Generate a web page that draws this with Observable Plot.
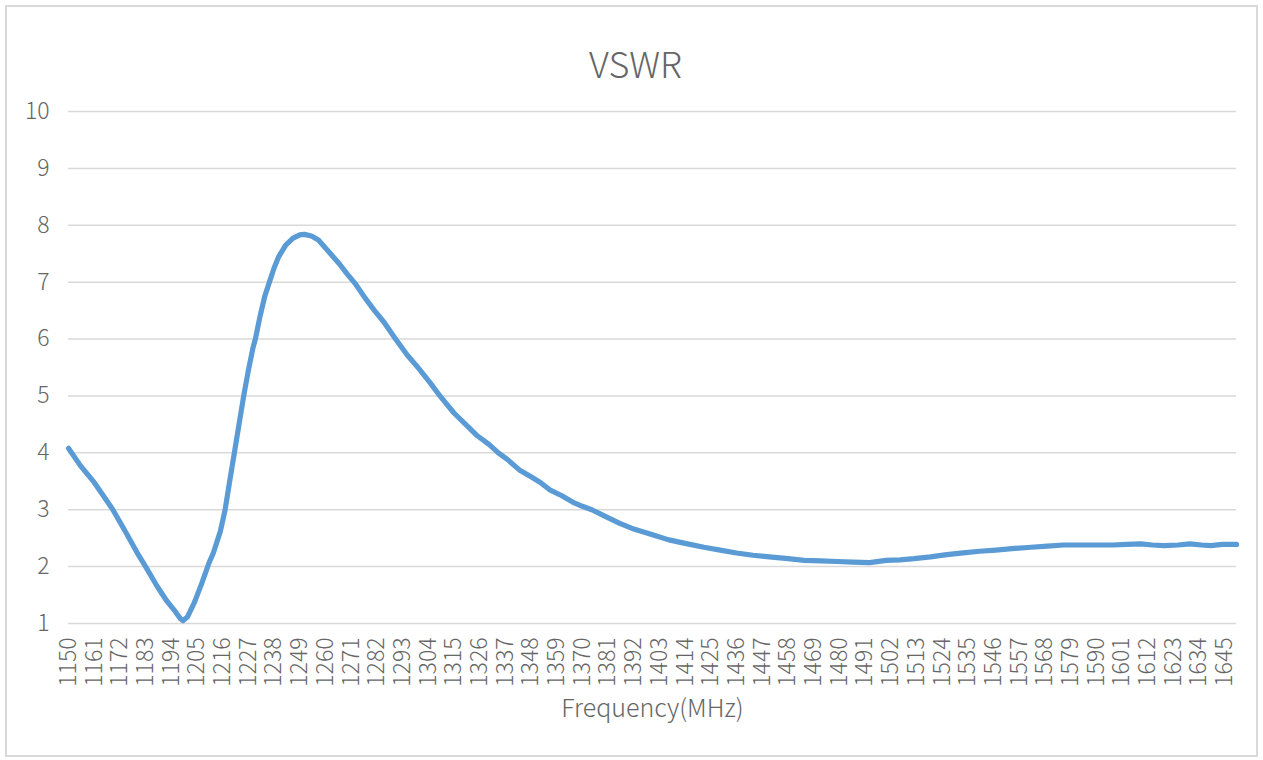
<!DOCTYPE html>
<html>
<head>
<meta charset="utf-8">
<script src="https://cdn.jsdelivr.net/npm/d3@7"></script>
<script src="https://cdn.jsdelivr.net/npm/@observablehq/plot@0.6"></script>
<style>
  html, body { margin: 0; padding: 0; background: #fff; }
  #wrap { position: relative; width: 1263px; height: 760px; overflow: hidden; }
  #border { position: absolute; left: 5px; top: 5px; width: 1249px; height: 748px; border: 2px solid #d9d9d9; pointer-events: none; }
  #chart svg { display: block; }
</style>
</head>
<body>
<div id="wrap"><div id="chart"></div><div id="border"></div></div>
<script>
const chartTitle = "VSWR";
const xTitle = "Frequency(MHz)";

const freq = [
  1150, 1155, 1161, 1165, 1169, 1175, 1180, 1183, 1188, 1192, 1195, 1198, 1199,
  1201, 1204, 1207, 1210, 1212, 1215, 1217, 1219, 1221, 1223, 1225, 1227, 1229,
  1230, 1232, 1234, 1236, 1238, 1240, 1243, 1246, 1249, 1251, 1254, 1257, 1260,
  1263, 1266, 1269, 1273, 1277, 1281, 1285, 1290, 1295, 1300, 1305, 1309, 1315,
  1320, 1325, 1330, 1334, 1338, 1343, 1348, 1352, 1356, 1361, 1366, 1370, 1374,
  1380, 1386, 1392, 1400, 1407, 1415, 1422, 1429, 1436, 1443, 1450, 1458, 1465,
  1472, 1479, 1486, 1493, 1500, 1506, 1512, 1519, 1526, 1533, 1540, 1547, 1555,
  1562, 1569, 1576, 1583, 1590, 1597, 1603, 1609, 1614, 1619, 1625, 1630, 1635,
  1639, 1644, 1650
];
const vswr = [
  4.08, 3.78, 3.48, 3.24, 3.00, 2.57, 2.20, 2.00, 1.65, 1.40, 1.25, 1.08, 1.05,
  1.12, 1.38, 1.70, 2.05, 2.24, 2.62, 2.99, 3.50, 4.00, 4.50, 5.00, 5.45, 5.85,
  6.00, 6.40, 6.75, 7.00, 7.25, 7.45, 7.65, 7.77, 7.83, 7.84, 7.81, 7.74, 7.60,
  7.46, 7.32, 7.16, 6.96, 6.72, 6.50, 6.30, 6.00, 5.72, 5.48, 5.22, 5.00, 4.70,
  4.50, 4.30, 4.15, 4.00, 3.88, 3.70, 3.58, 3.48, 3.35, 3.25, 3.13, 3.06, 3.00,
  2.88, 2.76, 2.66, 2.56, 2.47, 2.40, 2.34, 2.29, 2.24, 2.20, 2.17, 2.14, 2.11,
  2.10, 2.09, 2.08, 2.07, 2.11, 2.12, 2.14, 2.17, 2.21, 2.24, 2.27, 2.29, 2.32,
  2.34, 2.36, 2.38, 2.38, 2.38, 2.38, 2.39, 2.40, 2.38, 2.37, 2.38, 2.40, 2.38,
  2.37, 2.39, 2.39
];
const xTicks = [
  1150, 1161, 1172, 1183, 1194, 1205, 1216, 1227, 1238, 1249, 1260, 1271, 1282,
  1293, 1304, 1315, 1326, 1337, 1348, 1359, 1370, 1381, 1392, 1403, 1414, 1425,
  1436, 1447, 1458, 1469, 1480, 1491, 1502, 1513, 1524, 1535, 1546, 1557, 1568,
  1579, 1590, 1601, 1612, 1623, 1634, 1645
];
const yTicks = [1, 2, 3, 4, 5, 6, 7, 8, 9, 10];

const data = freq.map((f, i) => ({f, v: vswr[i]}));

const chart = Plot.plot({
  width: 1263,
  height: 760,
  marginLeft: 68,
  marginRight: 27,
  marginTop: 111,
  marginBottom: 137,
  x: {domain: [1150, 1650]},
  y: {domain: [1, 10]},
  style: {
    fontFamily: "'Noto Sans CJK SC', 'Noto Sans', sans-serif",
    fontSize: "23px",
    fontWeight: 300,
    color: "#666666",
    background: "transparent",
    overflow: "visible"
  },
  marks: [
    Plot.gridY(yTicks, {stroke: "#d9d9d9", strokeOpacity: 1, strokeWidth: 1.5}),
    Plot.axisY(yTicks, {tickSize: 0, tickPadding: 19, label: null, fontSize: 23, tickFormat: d => String(d)}),
    Plot.axisX(xTicks, {tickSize: 0, tickPadding: 14, tickRotate: -90, label: null, fontSize: 23, tickFormat: d => String(d)}),
    Plot.line(data, {x: "f", y: "v", stroke: "#5b9bd5", strokeWidth: 5.2, strokeLinejoin: "round", strokeLinecap: "round"}),
    Plot.text([chartTitle], {frameAnchor: "top", dy: -59, dx: -17, fontSize: 36, fill: "#666666"}),
    Plot.text([xTitle], {frameAnchor: "bottom", dy: 93, fontSize: 25, fill: "#666666"})
  ]
});
document.getElementById("chart").appendChild(chart);
</script>
</body>
</html>
